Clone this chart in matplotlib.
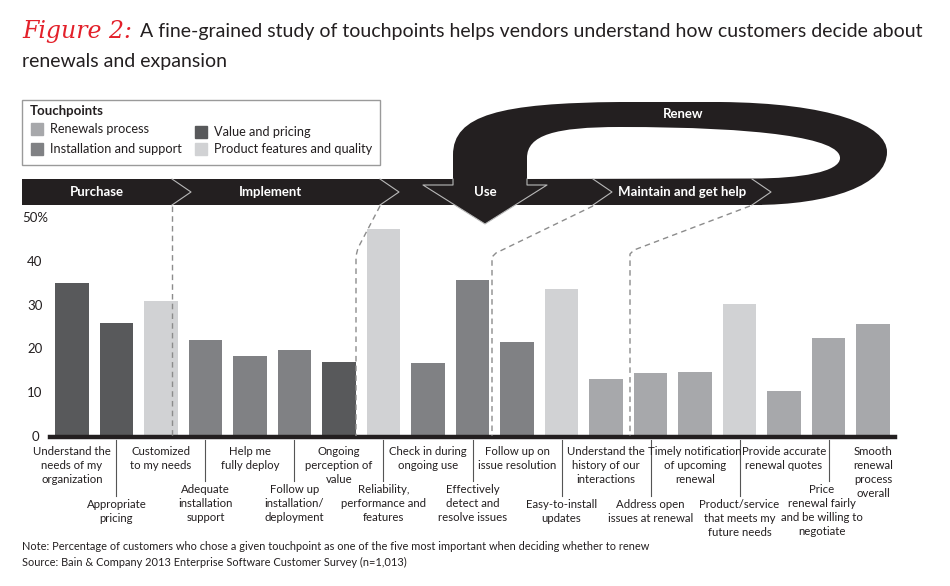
import matplotlib
matplotlib.use('Agg')
import matplotlib.pyplot as plt
import matplotlib.transforms as mtransforms
from matplotlib.patches import Rectangle, Polygon, PathPatch
from matplotlib.path import Path

plt.rcParams['font.family'] = ['Lato', 'DejaVu Sans']

# Touchpoint labels, in bar order (top row = even index, bottom row = odd index)
touchpoints = [
    'Understand the\nneeds of my\norganization',
    'Appropriate\npricing',
    'Customized\nto my needs',
    'Adequate\ninstallation\nsupport',
    'Help me\nfully deploy',
    'Follow up\ninstallation/\ndeployment',
    'Ongoing\nperception of\nvalue',
    'Reliability,\nperformance and\nfeatures',
    'Check in during\nongoing use',
    'Effectively\ndetect and\nresolve issues',
    'Follow up on\nissue resolution',
    'Easy-to-install\nupdates',
    'Understand the\nhistory of our\ninteractions',
    'Address open\nissues at renewal',
    'Timely notification\nof upcoming\nrenewal',
    'Product/service\nthat meets my\nfuture needs',
    'Provide accurate\nrenewal quotes',
    'Price\nrenewal fairly\nand be willing to\nnegotiate',
    'Smooth\nrenewal\nprocess\noverall',
]
values = [35.2, 26.0, 31.0, 22.2, 18.5, 19.9, 17.1, 47.4, 16.9, 35.9,
          21.7, 33.9, 13.3, 14.7, 14.9, 30.4, 10.6, 22.7, 25.7]
groups = ['value', 'value', 'product', 'install', 'install', 'install', 'value',
          'product', 'install', 'install', 'install', 'product', 'renewal',
          'renewal', 'renewal', 'product', 'renewal', 'renewal', 'renewal']
# bottom-row labels that sit one line lower (next to 3-line top labels)
low_start = [1, 11, 13, 15]

legend_names = {
    'renewal': 'Renewals process',
    'install': 'Installation and support',
    'value': 'Value and pricing',
    'product': 'Product features and quality',
}
colors = {
    'renewal': '#a7a8ab',
    'install': '#808184',
    'value': '#58595b',
    'product': '#d1d2d4',
}
yticks = [0, 10, 20, 30, 40, 50]
ytick_labels = ['0', '10', '20', '30', '40', '50%']
stages = ['Purchase', 'Implement', 'Use', 'Maintain and get help']

W, H = 950, 586
fig = plt.figure(figsize=(W / 100, H / 100), dpi=100)

# bar axes: baseline at y=437px, 50% at y=218px, x from 50 to 895px
ax = fig.add_axes([50 / W, 1 - 437 / H, 845 / W, (437 - 218) / H])
n = len(values)
xs = list(range(n))
ax.bar(xs, values, width=0.76, color=[colors[g] for g in groups], zorder=2)
ax.set_xlim(-0.494, n - 1 + 0.494)
ax.set_ylim(0, 50)
for s in ['top', 'right', 'left']:
    ax.spines[s].set_visible(False)
ax.spines['bottom'].set_linewidth(3.2)
ax.spines['bottom'].set_color('#231f20')
ax.set_xticks([])
ax.set_yticks([])
ax.patch.set_alpha(0)

# overlay in pixel coordinates (y downwards)
ov = fig.add_axes([0, 0, 1, 1], zorder=3)
ov.set_xlim(0, W)
ov.set_ylim(H, 0)
ov.axis('off')
ov.patch.set_alpha(0)

bx = mtransforms.blended_transform_factory(ax.transData, ov.transData)
by = mtransforms.blended_transform_factory(ov.transData, ax.transData)

for v, lab in zip(yticks, ytick_labels):
    ov.text(35, v, lab, transform=by, ha='center', va='center', fontsize=9.5, color='#231f20')

# category labels and separators
for i, lab in enumerate(touchpoints):
    tx = i
    if i % 2 == 0:
        y0 = 446
    else:
        y0 = 499 if i in low_start else 484
        ov.plot([i, i], [440, y0 - 3], transform=bx, color='#555555', lw=0.8)
    if i == n - 2:
        tx = i - 0.15  # nudged left so it clears the last label
    ov.text(tx, y0, lab, transform=bx, ha='center', va='top', fontsize=8.2,
            linespacing=1.33, color='#231f20')

# title
ov.text(22, 38, 'Figure 2:', fontsize=17, style='italic', family='DejaVu Serif',
        color='#e3202a', va='baseline')
ov.text(140, 37, 'A fine-grained study of touchpoints helps vendors understand how customers decide about',
        fontsize=14, va='baseline', color='#231f20')
ov.text(22, 67, 'renewals and expansion', fontsize=14, va='baseline', color='#231f20')

# legend box
ov.add_patch(Rectangle((22, 100), 358, 65, fill=False, ec='#9a9a9a', lw=1))
ov.text(30, 111, 'Touchpoints', fontsize=9.5, fontweight='bold', va='center', color='#231f20')
legend_pos = {'renewal': (31, 123), 'install': (31, 143), 'value': (195, 126), 'product': (195, 143)}
for key, (lx, ly) in legend_pos.items():
    ov.add_patch(Rectangle((lx, ly), 12, 12, color=colors[key]))
    ov.text(lx + 19, ly + 6, legend_names[key], fontsize=9.2, va='center', color='#231f20')

# process band and renew loop
band = '#231f20'
ov.add_patch(Rectangle((22, 179), 740, 26, color=band, lw=0))
outer = Path(
    [(453, 205), (453, 155), (453, 115), (500, 103), (620, 102),
     (720, 102), (830, 103), (887, 125), (887, 152),
     (887, 185), (830, 205), (753, 205), (453, 205)],
    [Path.MOVETO, Path.LINETO, Path.CURVE4, Path.CURVE4, Path.CURVE4,
     Path.LINETO, Path.CURVE4, Path.CURVE4, Path.CURVE4,
     Path.CURVE4, Path.CURVE4, Path.CURVE4, Path.CLOSEPOLY])
ov.add_patch(PathPatch(outer, color=band, lw=0))
inner = Path(
    [(527, 179), (527, 158), (527, 135), (555, 127), (620, 127),
     (760, 127), (840, 138), (840, 158),
     (840, 172), (800, 178.5), (753, 178.5), (527, 179)],
    [Path.MOVETO, Path.LINETO, Path.CURVE4, Path.CURVE4, Path.CURVE4,
     Path.CURVE4, Path.CURVE4, Path.CURVE4,
     Path.CURVE4, Path.CURVE4, Path.CURVE4, Path.CLOSEPOLY])
ov.add_patch(PathPatch(inner, color='white', lw=0))
ov.add_patch(Polygon([(423, 185), (547, 185), (485, 224)], color=band, lw=0))
edge = '#b8b8b8'
ov.plot([453, 453, 423, 485, 547, 527, 527], [179, 185, 185, 224, 185, 185, 179],
        color=edge, lw=0.8)
for cx in [172, 380, 593, 752]:
    ov.plot([cx, cx + 19, cx], [179, 192, 205], color=edge, lw=0.8)

stage_x = [97, 271, 485, 682]
for sx, name in zip(stage_x, stages):
    ov.text(sx, 192, name, color='white', fontsize=9.5, fontweight='bold', ha='center', va='center')
ov.text(683, 114, 'Renew', color='white', fontsize=9.5, fontweight='bold', ha='center', va='center')

# dashed connectors from band to chart
dash = dict(color='#8c8c8c', lw=1, dashes=(4, 3))
ov.plot([172, 172], [206, 436], **dash)
ov.plot([380, 358, 356, 356], [206, 248, 256, 436], **dash)
ov.plot([593, 496, 492, 492], [206, 253, 257, 436], **dash)
ov.plot([750, 634, 630, 630], [206, 250, 254, 436], **dash)

# notes
ov.text(22, 547, 'Note: Percentage of customers who chose a given touchpoint as one of the five most important when deciding whether to renew',
        fontsize=7.9, va='center', color='#231f20')
ov.text(22, 562, 'Source: Bain & Company 2013 Enterprise Software Customer Survey (n=1,013)',
        fontsize=7.9, va='center', color='#231f20')

fig.savefig('out.png', dpi=100)
